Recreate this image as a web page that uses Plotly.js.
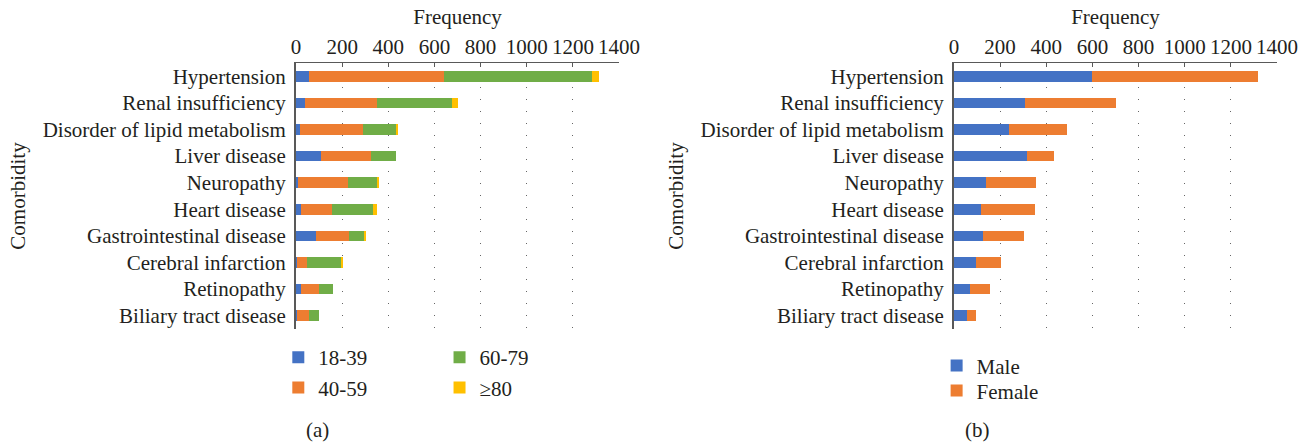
<!DOCTYPE html>
<html>
<head>
<meta charset="utf-8">
<script src="https://cdn.plot.ly/plotly-3.0.1.min.js"></script>
<style>html,body{margin:0;padding:0;background:#fff;}#chart{width:1314px;height:446px;}</style>
</head>
<body>
<div id="chart"></div>
<script>
const categories = ["Hypertension","Renal insufficiency","Disorder of lipid metabolism","Liver disease","Neuropathy","Heart disease","Gastrointestinal disease","Cerebral infarction","Retinopathy","Biliary tract disease"];
const age18_39 = [58, 39, 19, 108, 10, 23, 88, 2, 22, 4];
const age40_59 = [585, 312, 270, 219, 214, 132, 143, 47, 76, 54];
const age60_79 = [642, 323, 146, 105, 129, 179, 65, 145, 61, 40];
const age80plus = [30, 26, 6, 2, 6, 17, 6, 10, 0, 0];
const male = [597, 308, 239, 317, 139, 117, 127, 97, 68, 56];
const female = [719, 393, 251, 115, 218, 234, 175, 107, 90, 39];
const xTicks = [0,200,400,600,800,1000,1200,1400];

const FONT = "'Liberation Serif', 'Times New Roman', serif";
const TXT = "#231f20";
const C = {blue:"#4472C4", orange:"#ED7D31", green:"#70AD47", yellow:"#FFC000"};

function bar(x, name, color, xa, ya, legend) {
  return {type:"bar", orientation:"h", y:categories, x:x, name:name,
    marker:{color:color, line:{width:0}}, xaxis:xa, yaxis:ya, legend:legend,
    hoverinfo:"x+y+name"};
}
const data = [
  bar(age18_39, "18-39", C.blue, "x", "y", "legend"),
  bar(age40_59, "40-59", C.orange, "x", "y", "legend"),
  bar(age60_79, "60-79", C.green, "x", "y", "legend2"),
  bar(age80plus, "\u226580", C.yellow, "x", "y", "legend2"),
  bar(male, "Male", C.blue, "x2", "y2", "legend3"),
  bar(female, "Female", C.orange, "x2", "y2", "legend4")
];

function xax(domain, anchor) {
  return {domain:domain, anchor:anchor, side:"top", range:[0,1400], tickvals:xTicks,
    ticks:"inside", ticklen:4, tickcolor:"#595959", showline:true, linecolor:"#595959", linewidth:1,
    mirror:false, showgrid:true, gridcolor:"#666", griddash:"1px,11px", gridwidth:1, zeroline:false,
    tickfont:{family:FONT, size:21, color:TXT},
    title:{text:"Frequency", font:{family:FONT, size:21, color:TXT}, standoff:4}};
}
function yax(anchor) {
  return {domain:[0,1], anchor:anchor, type:"category", categoryorder:"array", categoryarray:categories,
    autorange:"reversed", showline:true, linecolor:"#595959", linewidth:2, ticks:"", showgrid:false,
    ticklabelstandoff:4, tickfont:{family:FONT, size:21, color:TXT},
    title:{text:"Comorbidity", font:{family:FONT, size:21, color:TXT}, standoff:11}};
}
const legBase = {orientation:"v", font:{family:FONT, size:21, color:TXT}, bgcolor:"rgba(0,0,0,0)",
  traceorder:"normal", yanchor:"top", xanchor:"left", itemwidth:30, tracegroupgap:0};

const layout = {
  width:1314, height:446, margin:{l:0, r:0, t:63.4, b:117}, paper_bgcolor:"#fff", plot_bgcolor:"#fff",
  barmode:"stack", bargap:0.6, font:{family:FONT, size:21, color:TXT}, showlegend:true,
  xaxis:xax([0.2253,0.4711],"y"), yaxis:yax("x"),
  xaxis2:xax([0.726,0.9719],"y2"), yaxis2:yax("x2"),
  legend:Object.assign({}, legBase, {x:0.2118, y:-0.03}),
  legend2:Object.assign({}, legBase, {x:0.3345, y:-0.03}),
  legend3:Object.assign({}, legBase, {x:0.7128, y:-0.061}),
  legend4:Object.assign({}, legBase, {x:0.7128, y:-0.155}),
  annotations:[
    {text:"(a)", xref:"paper", yref:"paper", x:0.242, y:-0.38, xanchor:"center", yanchor:"middle", showarrow:false, font:{family:FONT, size:21, color:TXT}},
    {text:"(b)", xref:"paper", yref:"paper", x:0.744, y:-0.38, xanchor:"center", yanchor:"middle", showarrow:false, font:{family:FONT, size:21, color:TXT}}
  ]
};
Plotly.newPlot("chart", data, layout, {displayModeBar:false, staticPlot:true});
</script>
</body>
</html>
